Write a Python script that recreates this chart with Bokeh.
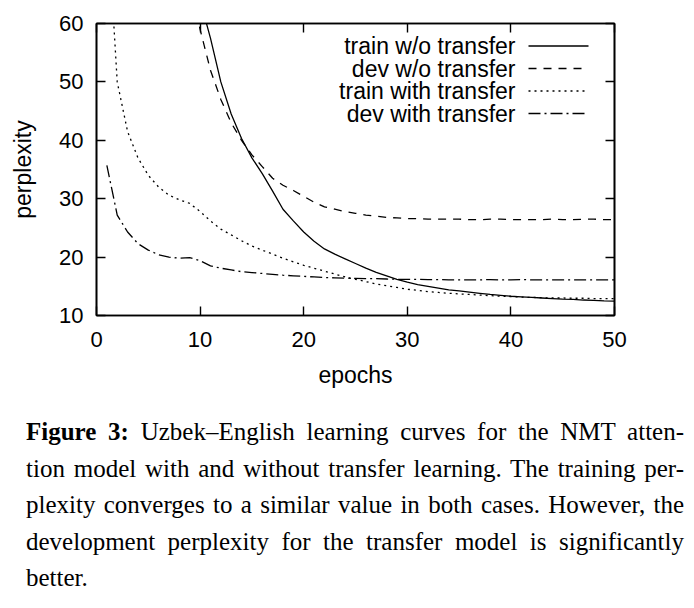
from bokeh.plotting import figure
from bokeh.models import Range1d, FixedTicker, LinearAxis, Label, Div
from bokeh.layouts import column
from bokeh.embed import file_html
from bokeh.resources import INLINE

# ---------------- data ----------------
epochs_train_wo = list(range(10, 51))
train_wo = [64.0, 57.5, 50.0, 44.5, 40.3, 37.0, 34.3, 31.3, 28.2, 26.2,
            24.3, 22.7, 21.4, 20.5, 19.7, 18.9, 18.1, 17.4, 16.8, 16.2,
            15.7, 15.3, 15.0, 14.7, 14.4, 14.2, 14.0, 13.8, 13.6, 13.45,
            13.3, 13.2, 13.1, 13.0, 12.9, 12.8, 12.75, 12.65, 12.6, 12.5,
            12.45]

epochs_dev_wo = list(range(9, 51))
dev_wo = [67.0, 59.0, 52.0, 47.0, 43.0, 40.0, 37.5, 35.5, 33.5, 32.3,
          31.4, 30.4, 29.4, 28.6, 28.2, 27.8, 27.5, 27.2, 27.0, 26.8,
          26.7, 26.6, 26.6, 26.5, 26.5, 26.5, 26.5, 26.4, 26.4, 26.5,
          26.5, 26.4, 26.4, 26.4, 26.4, 26.5, 26.4, 26.4, 26.5, 26.5,
          26.4, 26.4]

epochs_train_with = list(range(1, 51))
train_with = [80.0, 50.0, 41.5, 37.0, 34.0, 32.0, 30.6, 29.8, 29.2, 27.8,
              26.2, 24.8, 23.8, 22.8, 21.9, 21.2, 20.5, 19.8, 19.2, 18.6,
              18.1, 17.6, 17.1, 16.6, 16.2, 15.8, 15.4, 15.1, 14.8, 14.5,
              14.3, 14.1, 13.95, 13.8, 13.7, 13.6, 13.5, 13.4, 13.3, 13.25,
              13.15, 13.1, 13.05, 13.0, 13.0, 12.95, 12.95, 12.9, 12.9, 12.9]

epochs_dev_with = list(range(1, 51))
dev_with = [35.7, 27.2, 24.3, 22.3, 21.2, 20.4, 20.0, 19.8, 19.9, 19.4,
            18.5, 18.1, 17.8, 17.5, 17.35, 17.2, 17.05, 16.9, 16.8, 16.7,
            16.6, 16.5, 16.45, 16.4, 16.35, 16.3, 16.3, 16.25, 16.2, 16.2,
            16.2, 16.15, 16.15, 16.1, 16.1, 16.1, 16.1, 16.15, 16.1, 16.1,
            16.15, 16.1, 16.1, 16.1, 16.1, 16.1, 16.1, 16.1, 16.1, 16.1]

series_names = ["train w/o transfer", "dev w/o transfer",
                "train with transfer", "dev with transfer"]
x_ticks = [0, 10, 20, 30, 40, 50]
y_ticks = [10, 20, 30, 40, 50, 60]
x_label = "epochs"
y_label = "perplexity"

caption_lines = [
    "<b>Figure 3:</b> Uzbek\u2013English learning curves for the NMT atten-",
    "tion model with and without transfer learning. The training per-",
    "plexity converges to a similar value in both cases. However, the",
    "development perplexity for the transfer model is significantly",
    "better.",
]

# ---------------- layout / style ----------------
SANS = "Liberation Sans"
SERIF = "Liberation Serif"
FL, FR, FT, FB = 96, 80, 23, 80   # borders around the plot frame
W, H = 694, 395
X0, X1, Y0, Y1 = 0, 50, 10, 60
FW, FH = W - FL - FR, H - FT - FB

dashes = ["solid", "8 7", "2 4", "12 4 2 4"]
LW = 1.3

p = figure(width=W, height=H, x_range=Range1d(X0, X1), y_range=Range1d(Y0, Y1),
           output_backend="svg", toolbar_location=None,
           min_border_left=FL, min_border_right=FR,
           min_border_top=FT, min_border_bottom=FB)
p.background_fill_color = "white"
p.border_fill_color = "white"
p.outline_line_color = "black"
p.outline_line_width = 1.6
p.xgrid.visible = False
p.ygrid.visible = False


def style_axis(ax):
    ax.axis_line_color = "black"
    ax.axis_line_width = 1.6
    ax.major_tick_line_color = "black"
    ax.major_tick_line_width = 1.4
    ax.major_tick_in = 9
    ax.major_tick_out = 0
    ax.minor_tick_line_color = None
    ax.major_label_text_font = SANS
    ax.major_label_text_font_size = "22px"
    ax.major_label_text_color = "black"
    ax.axis_label_text_font = SANS
    ax.axis_label_text_font_size = "23px"
    ax.axis_label_text_font_style = "normal"
    ax.axis_label_text_color = "black"


p.xaxis.ticker = FixedTicker(ticks=x_ticks)
p.yaxis.ticker = FixedTicker(ticks=y_ticks)
style_axis(p.xaxis[0])
style_axis(p.yaxis[0])
p.xaxis.axis_label = x_label
p.yaxis.axis_label = y_label
p.xaxis.major_label_standoff = 16
p.yaxis.major_label_standoff = 13
p.xaxis.axis_label_standoff = 12
p.yaxis.axis_label_standoff = 20

# mirror ticks on top and right
top = LinearAxis(ticker=FixedTicker(ticks=x_ticks),
                 major_label_overrides={t: "" for t in x_ticks})
right = LinearAxis(ticker=FixedTicker(ticks=y_ticks),
                   major_label_overrides={t: "" for t in y_ticks})
style_axis(top)
style_axis(right)
p.add_layout(top, "above")
p.add_layout(right, "right")

xs = [epochs_train_wo, epochs_dev_wo, epochs_train_with, epochs_dev_with]
ys = [train_wo, dev_wo, train_with, dev_with]
for x, y, d in zip(xs, ys, dashes):
    p.line(x, y, line_color="black", line_width=LW, line_dash=d)


# legend (text on the left, sample on the right, as in gnuplot)
def dx(px):
    return X0 + (px - FL) / FW * (X1 - X0)


def dy(py):
    return Y1 - (py - FT) / FH * (Y1 - Y0)


rows = [45.5, 68, 90.5, 113]
for name, d, ry in zip(series_names, dashes, rows):
    p.add_layout(Label(x=dx(515), y=dy(ry), text=name, text_align="right",
                       text_baseline="middle", text_font=SANS,
                       text_font_size="23px", text_color="black"))
    p.line([dx(528), dx(588)], [dy(ry), dy(ry)], line_color="black",
           line_width=LW, line_dash=d)

# caption
inner = []
for i, line in enumerate(caption_lines):
    last = "justify" if i < len(caption_lines) - 1 else "left"
    inner.append(f'<div style="text-align:justify;text-align-last:{last};'
                 f'white-space:nowrap;">{line}</div>')
html = (f'<div style="font-family:\'{SERIF}\';font-size:25px;line-height:36.5px;'
        f'color:black;width:658px;margin-left:26px;padding-top:19px;">'
        + "".join(inner) + '</div>')
div = Div(text=html, width=W, height=608 - H, margin=(0, 0, 0, 0))

layout = column(p, div, spacing=0)
open("out.html", "w").write(file_html(layout, INLINE))
